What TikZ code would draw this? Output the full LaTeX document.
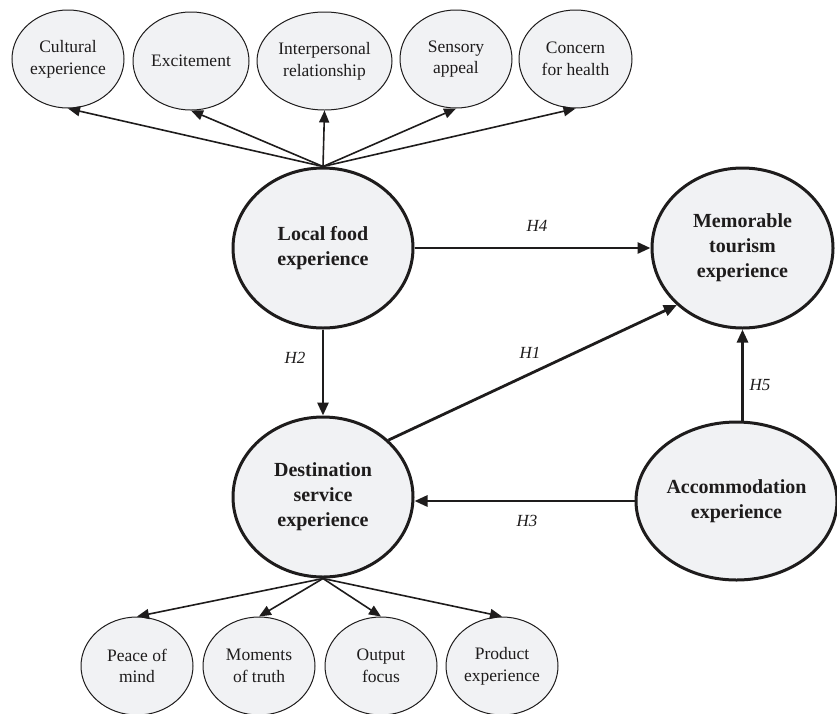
\documentclass[tikz,border=0pt]{standalone}
\usepackage{fontspec}
\setmainfont{Liberation Serif}
\usetikzlibrary{shapes.geometric,arrows.meta}
\definecolor{ellfill}{RGB}{241,242,244}
\definecolor{ink}{RGB}{30,28,28}
\tikzset{
  big/.style={ellipse,draw=ink,line width=3pt,fill=ellfill,inner sep=0pt,
    align=center,font=\fontsize{20}{25}\selectfont\bfseries,text=ink},
  small/.style={ellipse,draw=ink,line width=1pt,fill=ellfill,inner sep=0pt,
    minimum height=98pt,align=center,font=\fontsize{17.5}{21.7}\selectfont,text=ink},
  thickarr/.style={draw=ink,line width=2.8pt,-{Triangle[length=13pt,width=11pt]}},
  thinarr/.style={draw=ink,line width=1.6pt,-{Triangle[length=12pt,width=10pt]}},
  hlab/.style={font=\fontsize{17}{20}\selectfont\itshape,text=ink,inner sep=0pt}
}
\begin{document}
\begin{tikzpicture}[x=1pt,y=-1pt]
\useasboundingbox (0,0) rectangle (837,713);
% main constructs
\node[big,minimum width=180pt,minimum height=160pt] (lf) at (323,248) {Local food\\experience};
\node[big,minimum width=180pt,minimum height=160pt] (dse) at (323,497) {Destination\\service\\experience};
\node[big,minimum width=181pt,minimum height=160pt] (mte) at (742.5,248) {Memorable\\tourism\\experience};
\node[big,minimum width=201pt,minimum height=158pt] (acc) at (736.5,501) {Accommodation\\experience};
% top indicators
\node[small,minimum width=112pt] (cult) at (68,59) {Cultural\\experience};
\node[small,minimum width=116pt] (exc) at (191,61) {Excitement};
\node[small,minimum width=135pt] (inter) at (324.5,61) {Interpersonal\\relationship};
\node[small,minimum width=112pt] (sens) at (456,59) {Sensory\\appeal};
\node[small,minimum width=113pt] (conc) at (575.5,59) {Concern\\for health};
% bottom indicators
\node[small,minimum width=112pt] (peace) at (137,666) {Peace of\\mind};
\node[small,minimum width=112pt] (mom) at (259,666) {Moments\\of truth};
\node[small,minimum width=112pt] (out) at (381,666) {Output\\focus};
\node[small,minimum width=112pt] (prod) at (502,666) {Product\\experience};
% indicator arrows
\foreach \t in {cult,exc,inter,sens,conc}
  \draw[thinarr] (lf.north) -- (\t.south);
\foreach \t in {peace,mom,out,prod}
  \draw[thinarr] (dse.south) -- (\t.north);
% hypotheses
\draw[thickarr] (lf.east) -- (mte.west);
\draw[thickarr] (lf.south) -- (dse.north);
\draw[thickarr] (dse.41) -- (mte.221);
\draw[thickarr] (acc.west) -- (dse.east |- acc.west);
\draw[thickarr] (mte.south |- acc.north) -- (mte.south);
% labels
\node[hlab] (h4) at (537,226) {H4};
\node[hlab] (h2) at (295,358) {H2};
\node[hlab] (h1) at (530,353) {H1};
\node[hlab] (h3) at (527,521) {H3};
\node[hlab] (h5) at (760,385) {H5};
\end{tikzpicture}
\end{document}
